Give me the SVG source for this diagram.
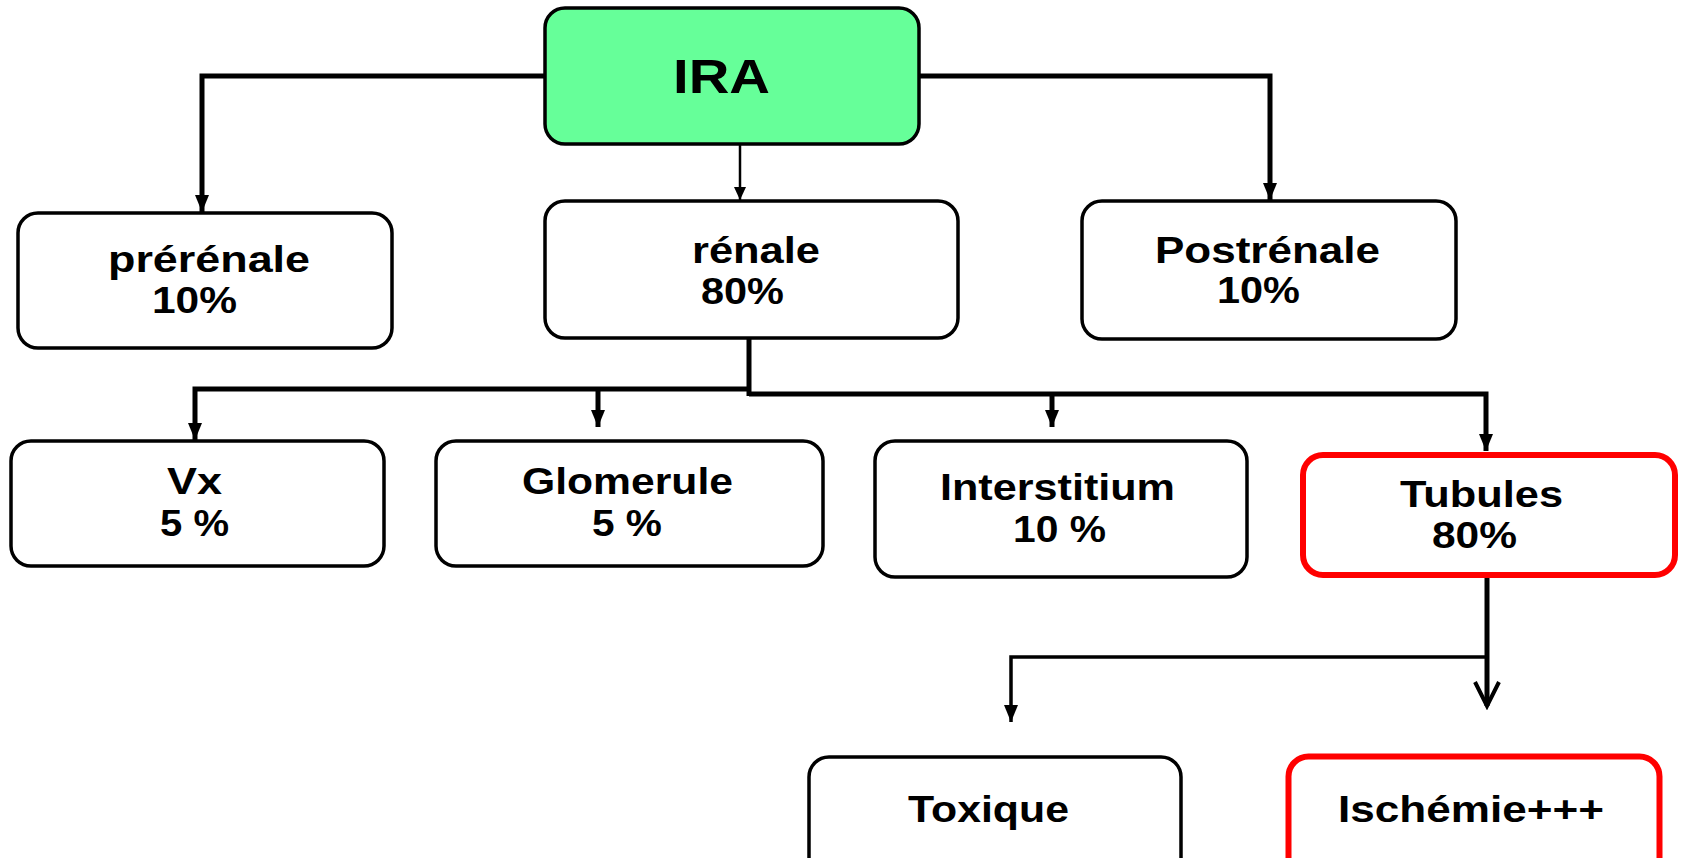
<svg xmlns="http://www.w3.org/2000/svg" width="1687" height="858" viewBox="0 0 1687 858">
<defs>
<style>
.box{fill:#ffffff;stroke:#000000;stroke-width:3.5}
.red{fill:#ffffff;stroke:#ff0000;stroke-width:6}
.root{fill:#66ff99;stroke:#000000;stroke-width:3.5}
.t{font-family:"Liberation Sans",Arial,sans-serif;font-weight:bold;font-size:36px;fill:#000000}
.big{font-size:49px}
.c{fill:none;stroke:#000000;stroke-linejoin:miter}
.w5{stroke-width:5}
.w3{stroke-width:3}
</style>
<marker id="arr" markerUnits="userSpaceOnUse" markerWidth="18" markerHeight="14" refX="17" refY="7" orient="auto">
<path d="M0,0 L17,7 L0,14 z" fill="#000000"/>
</marker>
<marker id="arrs" markerUnits="userSpaceOnUse" markerWidth="14" markerHeight="12" refX="13" refY="6" orient="auto">
<path d="M0,0 L13,6 L0,12 z" fill="#000000"/>
</marker>
<marker id="open" markerUnits="userSpaceOnUse" markerWidth="30" markerHeight="30" refX="26" refY="14" orient="auto">
<path d="M2,2 L26,14 L2,26" fill="none" stroke="#000000" stroke-width="4"/>
</marker>
</defs>
<rect width="1687" height="858" fill="#ffffff"/>

<g id="connectors">
<polyline class="c w5" points="545,76 202,76 202,212" marker-end="url(#arr)"/>
<line class="c" stroke-width="2.5" x1="740" y1="144" x2="740" y2="200" marker-end="url(#arrs)"/>
<polyline class="c w5" points="918,76 1270,76 1270,200" marker-end="url(#arr)"/>
<line class="c w5" x1="749" y1="338" x2="749" y2="396"/>
<polyline class="c w5" points="749,389 195,389 195,440" marker-end="url(#arr)"/>
<polyline class="c w5" points="749,394 1486,394 1486,451" marker-end="url(#arr)"/>
<line class="c w5" x1="598" y1="391" x2="598" y2="427" marker-end="url(#arr)"/>
<line class="c w5" x1="1052" y1="396" x2="1052" y2="427" marker-end="url(#arr)"/>
<line class="c w5" x1="1487" y1="578" x2="1487" y2="706" marker-end="url(#open)"/>
<polyline class="c" stroke="#333333" stroke-width="3.5" points="1487,657 1011,657 1011,722" marker-end="url(#arr)"/>
</g>

<g id="ira">
<rect class="root" x="545" y="8" width="374" height="136" rx="20"/>
<text class="t big" x="673" y="93" textLength="97" lengthAdjust="spacingAndGlyphs">IRA</text>
</g>

<g id="prerenale">
<rect class="box" x="18" y="213" width="374" height="135" rx="20"/>
<text class="t" x="108" y="272" textLength="202" lengthAdjust="spacingAndGlyphs">prérénale</text>
<text class="t" x="152" y="313" textLength="85" lengthAdjust="spacingAndGlyphs">10%</text>
</g>

<g id="renale">
<rect class="box" x="545" y="201" width="413" height="137" rx="20"/>
<text class="t" x="692" y="263" textLength="128" lengthAdjust="spacingAndGlyphs">rénale</text>
<text class="t" x="701" y="304" textLength="83" lengthAdjust="spacingAndGlyphs">80%</text>
</g>

<g id="postrenale">
<rect class="box" x="1082" y="201" width="374" height="138" rx="20"/>
<text class="t" x="1155" y="263" textLength="225" lengthAdjust="spacingAndGlyphs">Postrénale</text>
<text class="t" x="1217" y="303" textLength="83" lengthAdjust="spacingAndGlyphs">10%</text>
</g>

<g id="vx">
<rect class="box" x="11" y="441" width="373" height="125" rx="20"/>
<text class="t" x="167" y="494" textLength="55" lengthAdjust="spacingAndGlyphs">Vx</text>
<text class="t" x="160" y="536" textLength="69" lengthAdjust="spacingAndGlyphs">5 %</text>
</g>

<g id="glomerule">
<rect class="box" x="436" y="441" width="387" height="125" rx="20"/>
<text class="t" x="522" y="494" textLength="211" lengthAdjust="spacingAndGlyphs">Glomerule</text>
<text class="t" x="592" y="536" textLength="70" lengthAdjust="spacingAndGlyphs">5 %</text>
</g>

<g id="interstitium">
<rect class="box" x="875" y="441" width="372" height="136" rx="20"/>
<text class="t" x="940" y="500" textLength="235" lengthAdjust="spacingAndGlyphs">Interstitium</text>
<text class="t" x="1013" y="542" textLength="93" lengthAdjust="spacingAndGlyphs">10 %</text>
</g>

<g id="tubules">
<rect class="red" x="1303" y="455" width="372" height="120" rx="20"/>
<text class="t" x="1400" y="507" textLength="163" lengthAdjust="spacingAndGlyphs">Tubules</text>
<text class="t" x="1432" y="548" textLength="85" lengthAdjust="spacingAndGlyphs">80%</text>
</g>

<g id="toxique">
<rect class="box" x="809" y="757" width="372" height="130" rx="20"/>
<text class="t" x="908" y="822" textLength="161" lengthAdjust="spacingAndGlyphs">Toxique</text>
</g>

<g id="ischemie">
<rect class="red" stroke-width="5" x="1288.5" y="756.5" width="371" height="130" rx="20"/>
<text class="t" x="1338" y="822" textLength="266" lengthAdjust="spacingAndGlyphs">Ischémie+++</text>
</g>
</svg>
